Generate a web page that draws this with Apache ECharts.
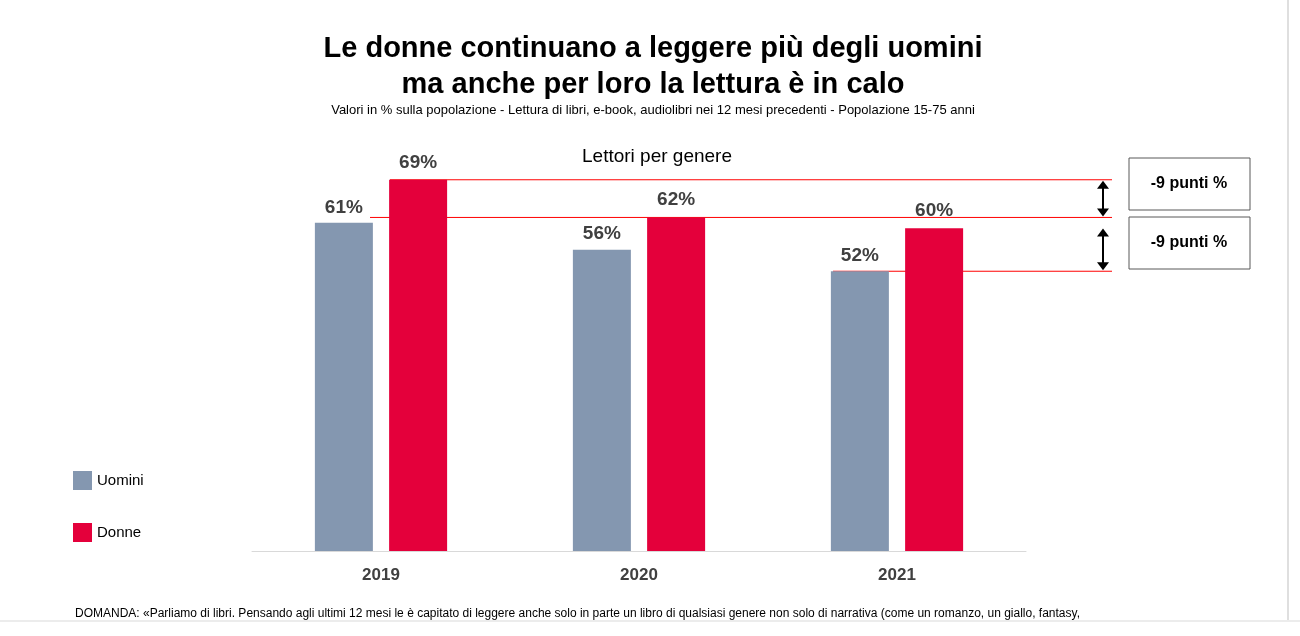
<!DOCTYPE html>
<html><head><meta charset="utf-8">
<script src="https://cdn.jsdelivr.net/npm/echarts@6/dist/echarts.min.js"></script>
<style>html,body{margin:0;padding:0;background:#fff}#c{width:1300px;height:636px}</style>
</head><body><div id="c"></div>
<script>
const years = ['2019', '2020', '2021']
const uomini = [61, 56, 52]
const donne = [69, 62, 60]
const gapLabel = '-9 punti %'

const chart = echarts.init(document.getElementById('c'))
const font = 'Arial, "Liberation Sans", sans-serif'

const option = {
  animation: false,
  textStyle: { fontFamily: font },
  title: [
    { text: 'Le donne continuano a leggere più degli uomini\nma anche per loro la lettura è in calo', left: 648, top: 26, textAlign: 'center',
      textStyle: { fontSize: 29, fontWeight: 'bold', color: '#000', lineHeight: 36, fontFamily: font } },
    { text: 'Valori in % sulla popolazione - Lettura di libri, e-book, audiolibri nei 12 mesi precedenti - Popolazione 15-75 anni', left: 648, top: 99, textAlign: 'center',
      textStyle: { fontSize: 13, fontWeight: 'normal', color: '#000', fontFamily: font } },
    { text: 'Lettori per genere', left: 652, top: 142, textAlign: 'center',
      textStyle: { fontSize: 19, fontWeight: 'normal', color: '#000', fontFamily: font } },
    { text: 'DOMANDA: «Parliamo di libri. Pensando agli ultimi 12 mesi le è capitato di leggere anche solo in parte un libro di qualsiasi genere non solo di narrativa (come un romanzo, un giallo, fantasy,', left: 70, top: 603,
      textStyle: { fontSize: 12, fontWeight: 'normal', color: '#000', fontFamily: font } }
  ],
  legend: {
    orient: 'vertical', left: 68, top: 466, itemWidth: 19, itemHeight: 19, itemGap: 33,
    icon: 'rect', textStyle: { fontSize: 15, color: '#000' }
  },
  grid: { left: 252, right: 274, top: 13, bottom: 85 },
  xAxis: {
    type: 'category', data: years,
    axisLine: { lineStyle: { color: '#d9d9d9' } }, axisTick: { show: false },
    axisLabel: { fontSize: 17, fontWeight: 'bold', color: '#404040', margin: 16 }
  },
  yAxis: { type: 'value', min: 0, max: 100, show: false, splitLine: { show: false } },
  series: [
    { name: 'Uomini', type: 'bar', data: uomini, barWidth: 58, barGap: '28%', itemStyle: { color: '#8497b0' },
      label: { show: true, position: 'top', formatter: '{c}%', fontSize: 19, fontWeight: 'bold', color: '#404040', distance: 6 } },
    { name: 'Donne', type: 'bar', data: donne, barWidth: 58, itemStyle: { color: '#e4003b' },
      label: { show: true, position: 'top', formatter: '{c}%', fontSize: 19, fontWeight: 'bold', color: '#404040', distance: 8 } }
  ]
}
chart.setOption(option)

// annotation lines, arrows and boxes from data positions
const py = v => chart.convertToPixel({ yAxisIndex: 0 }, v)
const y1 = py(donne[0]), y2 = py(donne[1]), y3 = py(uomini[2])
const red = { stroke: '#ff0000', lineWidth: 1 }
const arrow = (ya, yb) => [
  { type: 'line', shape: { x1: 1103, y1: ya + 3, x2: 1103, y2: yb - 3 }, style: { stroke: '#000', lineWidth: 2 } },
  { type: 'polygon', shape: { points: [[1097, ya + 9], [1109, ya + 9], [1103, ya + 1]] }, style: { fill: '#000' } },
  { type: 'polygon', shape: { points: [[1097, yb - 9], [1109, yb - 9], [1103, yb - 1]] }, style: { fill: '#000' } }
]
const box = (y, h) => [
  { type: 'rect', shape: { x: 1129, y: y, width: 121, height: h }, style: { fill: '#fff', stroke: '#595959', lineWidth: 1 } },
  { type: 'text', x: 1189, y: y + h / 2, style: { text: gapLabel, fontSize: 16, fontWeight: 'bold', fill: '#000', align: 'center', verticalAlign: 'middle', fontFamily: font } }
]
chart.setOption({
  graphic: [
    { type: 'line', z: -1, shape: { x1: 390, y1: y1, x2: 1112, y2: y1 }, style: red },
    { type: 'line', z: -1, shape: { x1: 370, y1: y2, x2: 1112, y2: y2 }, style: red },
    { type: 'line', z: -1, shape: { x1: 833, y1: y3, x2: 1112, y2: y3 }, style: red },
    ...arrow(y1, y2),
    ...arrow(y2 + 10, y3),
    ...box(158, 52),
    ...box(217, 52),
    { type: 'line', shape: { x1: 1288, y1: 0, x2: 1288, y2: 620 }, style: { stroke: '#bfbfbf', lineWidth: 1 } },
    { type: 'line', shape: { x1: 0, y1: 621, x2: 1300, y2: 621 }, style: { stroke: '#d9d9d9', lineWidth: 1 } }
  ]
})
</script>
</body></html>
